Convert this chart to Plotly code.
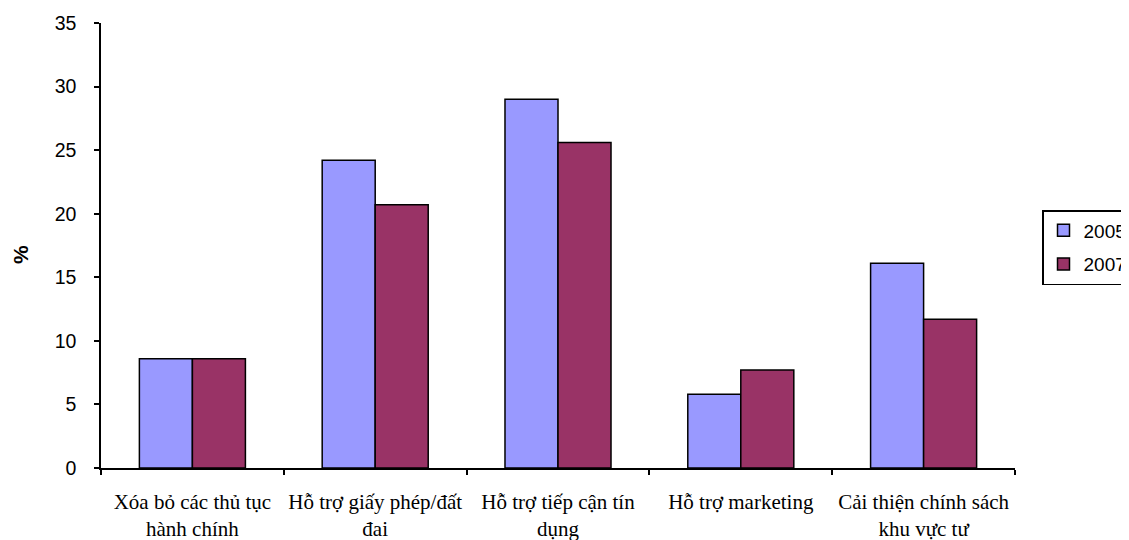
import plotly.graph_objects as go

categories = [
    "Xóa bỏ các thủ tục<br>hành chính",
    "Hỗ trợ giấy phép/đất<br>đai",
    "Hỗ trợ tiếp cận tín<br>dụng",
    "Hỗ trợ marketing",
    "Cải thiện chính sách<br>khu vực tư",
]
values_2005 = [8.6, 24.2, 29.0, 5.8, 16.1]
values_2007 = [8.6, 20.7, 25.6, 7.7, 11.7]
series_names = ["2005", "2007"]
y_ticks = [0, 5, 10, 15, 20, 25, 30, 35]

# page body has an 8px margin; figure offset by 8px
W, H = 1121, 532
L, T, R, B = 93, 15, 1121 - 1007, 532 - 460

fig = go.Figure()
fig.add_trace(go.Bar(
    x=categories, y=values_2005, name=series_names[0],
    marker=dict(color="#9999FF", line=dict(color="black", width=1.5)),
    legendgroup="a",
))
fig.add_trace(go.Bar(
    x=categories, y=values_2007, name=series_names[1],
    marker=dict(color="#993366", line=dict(color="black", width=1.5)),
    legendgroup="b",
))

fig.update_layout(
    width=W, height=H,
    paper_bgcolor="white", plot_bgcolor="white",
    margin=dict(l=L, r=R, t=T, b=B, autoexpand=False),
    barmode="group", bargap=0.42, bargroupgap=0,
    showlegend=True,
    legend=dict(
        x=(1034 - L) / (1007 - L), y=(460 - 202) / (460 - T),
        xanchor="left", yanchor="top",
        bordercolor="black", borderwidth=1.5,
        font=dict(family="Liberation Sans, Arial", size=19, color="black"),
        traceorder="grouped", tracegroupgap=6,
        itemwidth=30,
    ),
    xaxis=dict(
        type="category", tickson="boundaries", ticks="outside", ticklen=5,
        tickcolor="black", tickwidth=1.5, tickangle=0,
        showline=True, linecolor="black", linewidth=1.5,
        showgrid=False, zeroline=False,
        tickfont=dict(family="Liberation Serif, Times New Roman", size=21, color="black"),
        ticklabelstandoff=14,
    ),
    yaxis=dict(
        range=[0, 35], tickvals=y_ticks, ticks="outside", ticklen=5,
        tickcolor="black", tickwidth=1.5,
        showline=True, linecolor="black", linewidth=1.5,
        showgrid=False, zeroline=False,
        tickfont=dict(family="Liberation Sans, Arial", size=19.5, color="black"),
        ticklabelstandoff=14,
    ),
    annotations=[dict(
        text="<b>%</b>", textangle=-90, xref="paper", yref="paper",
        x=(12 - L) / (1007 - L), y=(460 - 247) / (460 - T),
        xanchor="center", yanchor="middle", showarrow=False,
        font=dict(family="Liberation Sans, Arial", size=21, color="black"),
    )],
)

fig.write_html("out.html")
